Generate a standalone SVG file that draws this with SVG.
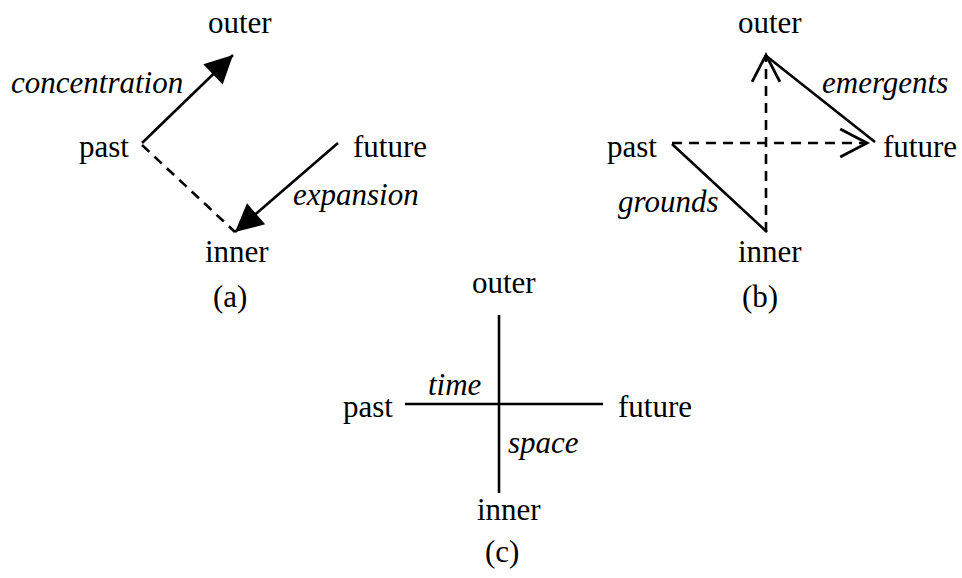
<svg xmlns="http://www.w3.org/2000/svg" width="962" height="578" viewBox="0 0 962 578">
<defs>
<style>
text{font-family:"Liberation Serif","Times New Roman",serif;font-size:31px;fill:#000}
.it{font-style:italic}
line{stroke:#000;stroke-width:2.6;fill:none}
.d{stroke-dasharray:10,7}
</style>
<marker id="solid" markerUnits="userSpaceOnUse" markerWidth="30" markerHeight="30" viewBox="-26 -14 28 28" refX="0" refY="0" orient="auto" overflow="visible">
<path d="M-26,-13 L0,0 L-26,13 z" fill="#000"/>
</marker>
<marker id="open" markerUnits="userSpaceOnUse" markerWidth="30" markerHeight="30" viewBox="-26 -14 28 28" refX="0" refY="0" orient="auto" overflow="visible">
<path d="M-25,-13 L0,0 L-25,13" fill="none" stroke="#000" stroke-width="2.6"/>
</marker>
</defs>
<rect width="962" height="578" fill="#fff"/>

<g id="connectors">
<line x1="142" y1="143" x2="233" y2="55" marker-end="url(#solid)"/>
<line x1="338" y1="143" x2="235" y2="232" marker-end="url(#solid)"/>
<line class="d" x1="142" y1="145" x2="235" y2="232"/>

<line class="d" x1="672" y1="143" x2="867" y2="143" marker-end="url(#open)"/>
<line class="d" x1="766" y1="232" x2="766" y2="55" marker-end="url(#open)"/>
<line x1="672" y1="144" x2="767" y2="232"/>
<line x1="765" y1="55" x2="875" y2="142"/>

<line x1="499" y1="315" x2="499" y2="493"/>
<line x1="405" y1="404" x2="603" y2="404"/>
</g>

<g id="a-outer"><text x="208" y="33">outer</text></g>
<g id="a-past"><text x="79" y="157">past</text></g>
<g id="a-future"><text x="353" y="157">future</text></g>
<g id="a-inner"><text x="205" y="262">inner</text></g>
<g id="a-concentration"><text class="it" x="11" y="93">concentration</text></g>
<g id="a-expansion"><text class="it" x="293" y="205">expansion</text></g>
<g id="a-caption"><text x="213" y="307">(a)</text></g>

<g id="b-outer"><text x="738" y="33">outer</text></g>
<g id="b-past"><text x="607" y="157">past</text></g>
<g id="b-future"><text x="883" y="157">future</text></g>
<g id="b-inner"><text x="738" y="262">inner</text></g>
<g id="b-emergents"><text class="it" x="822" y="93">emergents</text></g>
<g id="b-grounds"><text class="it" x="618" y="212">grounds</text></g>
<g id="b-caption"><text x="742" y="307">(b)</text></g>

<g id="c-outer"><text x="472" y="293">outer</text></g>
<g id="c-past"><text x="343" y="417">past</text></g>
<g id="c-future"><text x="618" y="417">future</text></g>
<g id="c-inner"><text x="477" y="520">inner</text></g>
<g id="c-time"><text class="it" x="428" y="395">time</text></g>
<g id="c-space"><text class="it" x="508" y="453">space</text></g>
<g id="c-caption"><text x="485" y="562">(c)</text></g>
</svg>
